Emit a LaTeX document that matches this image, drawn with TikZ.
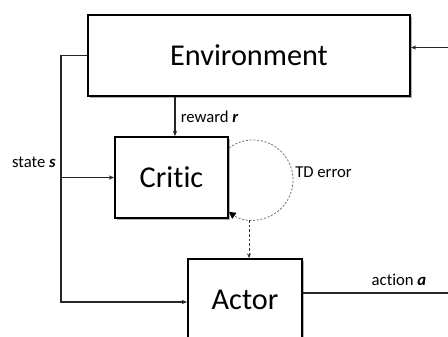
\documentclass[tikz,border=0pt]{standalone}
\usepackage{fontspec}
\setmainfont{Carlito}[Ligatures=NoCommon]
\usetikzlibrary{arrows.meta,shadows}
\begin{document}
\begin{tikzpicture}[x=0.75pt,y=-0.75pt,
  block/.style={draw=black,line width=1.4pt,fill=white,inner sep=0pt,
    font=\fontsize{22.7}{27}\selectfont,
    drop shadow={shadow xshift=1.2pt,shadow yshift=-1.2pt,opacity=0.3,fill=black}},
  conn/.style={draw=black!85,line width=0.8pt,-{Stealth[length=4pt,width=3.2pt]}},
  lbl/.style={font=\fontsize{12.5}{15}\selectfont,inner sep=0pt},
  tdloop/.style={draw=black!55,line width=0.6pt,dash pattern=on 1.6pt off 1.2pt,
    -{Stealth[length=5pt,width=5.5pt,inset=0pt,black,sep=-0.5pt]}},
  tdline/.style={draw=black!80,line width=0.7pt,dash pattern=on 2pt off 1.5pt,
    -{Stealth[length=3.5pt,width=3pt]}}]
\useasboundingbox (0,0) rectangle (448,336);
\clip (0,0) rectangle (448,336);

% blocks
\node[block,minimum width=241.5pt,minimum height=60.75pt] (env) at (249,55.5) {Environment};
\node[block,minimum width=84.75pt,minimum height=60.75pt] (critic) at (171.5,177.5) {Critic};
\node[block,minimum width=85.5pt,minimum height=61.5pt] (actor) at (245,300) {Actor};

% state bus on the left
\coordinate (bus) at (61,55.5);
\draw[conn] (env.west) -- (bus) |- ([yshift=-1.5pt]actor.west);
\draw[conn] (bus |- critic.west) -- (critic.west);
\node[lbl,anchor=east] (statelbl) at (56,162) {state \textbf{\textit{s}}};

% reward
\draw[conn] ([xshift=2.6pt]critic.north |- env.south) --
  node[lbl,right=4pt] (rewardlbl) {reward \textbf{\textit{r}}} ([xshift=2.6pt]critic.north);

% TD error loop on the critic
\draw[tdloop] (critic.east) ++(0,-29.5) arc[start angle=-127,end angle=126,radius=40];
\node[lbl,anchor=west] (tdlbl) at (295,172) {TD error};
\coordinate (tdsrc) at (249,220);
\draw[tdline] (tdsrc) -- (tdsrc |- actor.north);

% action back to the environment
\draw[conn] ([yshift=5.25pt]actor.east) -- ++(170,0) |- ([yshift=6pt]env.east);
\node[lbl] (actionlbl) at (399,280) {action \textbf{\textit{a}}};
\end{tikzpicture}
\end{document}
